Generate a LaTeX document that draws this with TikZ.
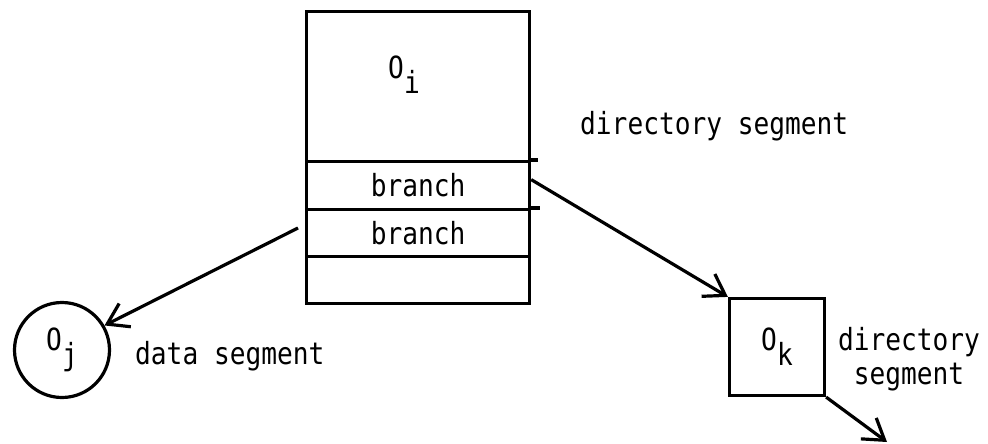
\documentclass[tikz,border=0pt]{standalone}
\usepackage{fontspec}
\setmonofont{DejaVu Sans Mono}
\usetikzlibrary{arrows.meta}
\newcommand{\tall}[1]{\scalebox{0.97}[1.13]{#1}}
\tikzset{
  lbl/.style={font=\ttfamily\fontsize{27}{34}\selectfont, inner sep=0pt},
  cell/.style={draw, line width=3.2pt, minimum width=223pt, inner sep=0pt, anchor=north west, font=\ttfamily\fontsize{27}{31}\selectfont},
  link/.style={line width=3.2pt, -{Straight Barb[length=20pt,width=26pt,line width=3.2pt]}},
}
\newcommand{\subsc}[1]{\raisebox{-0.5em}{#1}}
\begin{document}
\begin{tikzpicture}[x=1pt,y=-1pt]
\useasboundingbox (0,0) rectangle (988,444);
\node[cell, minimum height=150pt] (top) at (305,10) {};
\node[lbl] (oi) at (404,75) {\tall{O\subsc{i}}};
\node[cell, minimum height=48pt] (br1) at (305,160) {\tall{branch}};
\node[cell, minimum height=47pt] (br2) at (305,208) {\tall{branch}};
\node[cell, minimum height=47pt] (emp) at (305,255) {};
\draw[line width=3.2pt] (br1.north east) -- ++(7,0);
\draw[line width=3.2pt] (br2.north east) -- ++(9,0);
\node[lbl, anchor=west] (dirlbl) at (580,126) {\tall{directory segment}};
\node[draw, circle, line width=3.2pt, minimum size=95pt, inner sep=0pt, font=\ttfamily\fontsize{27}{31}\selectfont] (oj) at (62,350) {\tall{O\subsc{j}}};
\node[lbl, anchor=west] (datalbl) at (135,356) {\tall{data segment}};
\node[draw, line width=3.2pt, minimum width=95pt, minimum height=97pt, inner sep=0pt, font=\ttfamily\fontsize{27}{31}\selectfont] (ok) at (777,347) {\tall{O\subsc{k}}};
\node[lbl, align=center] (oklbl) at (909,359) {\tall{directory}\\\tall{segment}};
\coordinate (out) at (887,442);
\draw[link] ([yshift=6pt]br1.east) -- (ok.north west);
\draw[link] ([xshift=-7pt,yshift=-20pt]br2.north west) -- (oj.30);
\draw[link] (ok.south east) -- (out);
\end{tikzpicture}
\end{document}
